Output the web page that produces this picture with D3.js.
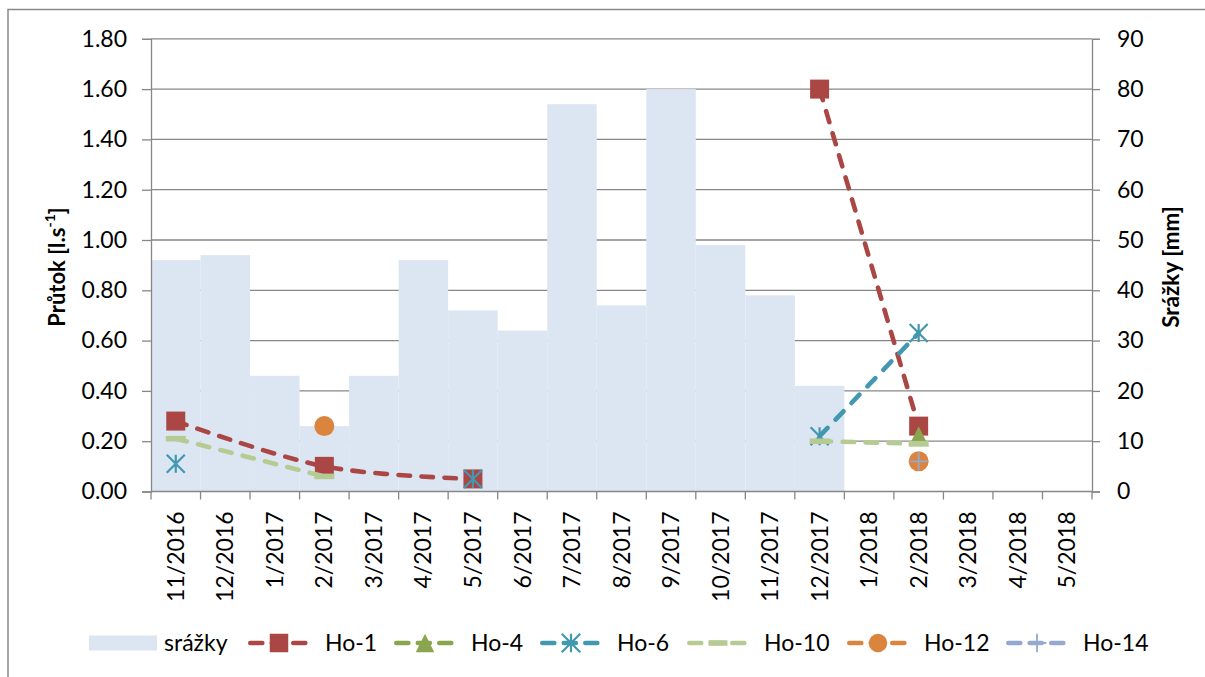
<!DOCTYPE html>
<html>
<head>
<meta charset="utf-8">
<script src="https://cdn.jsdelivr.net/npm/d3@7"></script>
<style>
  html, body { margin: 0; padding: 0; background: #fff; overflow: hidden; }
  svg { display: block; font-family: Lato, "Open Sans", sans-serif; }
</style>
</head>
<body>
<svg id="chart" width="1205" height="677"></svg>
<script>
// Months on the category axis
const categories = ["11/2016","12/2016","1/2017","2/2017","3/2017","4/2017","5/2017","6/2017",
  "7/2017","8/2017","9/2017","10/2017","11/2017","12/2017","1/2018","2/2018","3/2018","4/2018","5/2018"];

// Monthly precipitation [mm] (right axis)
const srazky = [46, 47, 23, 13, 23, 46, 36, 32, 77, 37, 80, 49, 39, 21, null, null, null, null, null];

// Discharge [l/s] per spring; each inner list is one connected run of measurements
const ho1  = [[["11/2016", 0.28], ["2/2017", 0.10], ["5/2017", 0.05]], [["12/2017", 1.60], ["2/2018", 0.26]]];
const ho4  = [[["2/2018", 0.22]]];
const ho6  = [[["11/2016", 0.11]], [["5/2017", 0.05]], [["12/2017", 0.22], ["2/2018", 0.63]]];
const ho10 = [[["11/2016", 0.21], ["2/2017", 0.06]], [["12/2017", 0.20], ["2/2018", 0.19]]];
const ho12 = [[["2/2017", 0.26]], [["2/2018", 0.12]]];
const ho14 = [[["2/2018", 0.12]]];

// Axis ticks
const leftTicks  = [0, 0.2, 0.4, 0.6, 0.8, 1.0, 1.2, 1.4, 1.6, 1.8];
const rightTicks = [0, 10, 20, 30, 40, 50, 60, 70, 80, 90];

const series = [
  { name: "Ho-1",  data: ho1,  color: "#AA4643", marker: "square",   size: 19 },
  { name: "Ho-4",  data: ho4,  color: "#89A54E", marker: "triangle", size: 20 },
  { name: "Ho-6",  data: ho6,  color: "#4198AF", marker: "star",     size: 18 },
  { name: "Ho-10", data: ho10, color: "#B6CB93", marker: "dash",     size: 20 },
  { name: "Ho-12", data: ho12, color: "#DB843D", marker: "circle",   size: 20 },
  { name: "Ho-14", data: ho14, color: "#93A9CF", marker: "plus",     size: 18 }
];

const barColor = "#DCE6F2";
const gridColor = "#878787";

const svg = d3.select("#chart");

// Plot geometry
const plot = { left: 151, right: 1092, top: 38.8, bottom: 491.5 };

const x = d3.scaleBand().domain(categories).range([plot.left, plot.right]).padding(0);
const yL = d3.scaleLinear().domain([0, 1.8]).range([plot.bottom, plot.top]);
const yR = d3.scaleLinear().domain([0, 90]).range([plot.bottom, plot.top]);
const cx = c => x(c) + x.bandwidth() / 2;

// Outer chart frame
svg.append("rect")
  .attr("x", 8).attr("y", 9.5).attr("width", 1400).attr("height", 900)
  .attr("fill", "none").attr("stroke", "#888").attr("stroke-width", 1.5);

// Horizontal gridlines (behind bars)
svg.append("g").selectAll("line").data(leftTicks.filter(d => d > 0)).join("line")
  .attr("x1", plot.left).attr("x2", plot.right)
  .attr("y1", d => yL(d)).attr("y2", d => yL(d))
  .attr("stroke", gridColor).attr("stroke-width", 1.3);

// Precipitation columns
svg.append("g").selectAll("rect")
  .data(categories.map((c, i) => ({ c, v: srazky[i] })).filter(d => d.v != null))
  .join("rect")
  .attr("x", d => x(d.c)).attr("width", x.bandwidth())
  .attr("y", d => yR(d.v)).attr("height", d => yR(0) - yR(d.v))
  .attr("fill", barColor);

// Left axis
const axL = svg.append("g").attr("transform", `translate(${plot.left},0)`)
  .call(d3.axisLeft(yL).tickValues(leftTicks).tickFormat(d3.format(".2f")).tickSize(9).tickPadding(15));
// Right axis
const axR = svg.append("g").attr("transform", `translate(${plot.right},0)`)
  .call(d3.axisRight(yR).tickValues(rightTicks).tickFormat(d3.format("d")).tickSize(8).tickPadding(17));
[axL, axR].forEach(a => {
  a.select(".domain").attr("stroke", gridColor).attr("stroke-width", 1.3);
  a.selectAll(".tick line").attr("stroke", gridColor).attr("stroke-width", 1.3);
  a.selectAll(".tick text").attr("font-size", 23).attr("fill", "#000").attr("font-family", "Lato");
});

// Category axis: baseline, boundary ticks, rotated labels
const axB = svg.append("g");
axB.append("line").attr("x1", plot.left).attr("x2", plot.right)
  .attr("y1", plot.bottom).attr("y2", plot.bottom)
  .attr("stroke", gridColor).attr("stroke-width", 1.3);
axB.selectAll("line.b").data(categories.map(c => x(c)).concat([plot.right])).join("line")
  .attr("class", "b")
  .attr("x1", d => d).attr("x2", d => d)
  .attr("y1", plot.bottom).attr("y2", plot.bottom + 8)
  .attr("stroke", gridColor).attr("stroke-width", 1.3);
axB.selectAll("text").data(categories).join("text")
  .attr("transform", d => `translate(${cx(d)},${plot.bottom + 20}) rotate(-90)`)
  .attr("text-anchor", "end").attr("dy", "0.35em")
  .attr("font-size", 23).text(d => d);

// Axis titles
const tL = svg.append("text")
  .attr("transform", `translate(57,267) rotate(-90)`)
  .attr("text-anchor", "middle").attr("dy", "0.35em")
  .attr("font-size", 22).attr("font-weight", "bold");
tL.append("tspan").text("Průtok [l.s");
tL.append("tspan").attr("font-size", 14).attr("dy", "-0.7em").text("-1");
tL.append("tspan").attr("dy", "0.45em").text("]");

svg.append("text")
  .attr("transform", `translate(1171,267) rotate(-90)`)
  .attr("text-anchor", "middle").attr("dy", "0.35em")
  .attr("font-size", 22.5).attr("font-weight", "bold")
  .text("Srážky [mm]");

// Marker shapes
function markerPath(type, s) {
  const h = s / 2;
  switch (type) {
    case "square":   return `M${-h},${-h}h${s}v${s}h${-s}Z`;
    case "triangle": return `M0,${-h}L${h},${h}L${-h},${h}Z`;
    case "circle":   return d3.symbol(d3.symbolCircle, Math.PI * h * h)();
    case "star":     return `M${-h},${-h}L${h},${h}M${h},${-h}L${-h},${h}M0,${-h}V${h}`;
    case "plus":     return `M${-h},0H${h}M0,${-h}V${h}`;
    case "dash":     return `M${-h},-2.8h${s}v5.6h${-s}Z`;
  }
}
const stroked = t => t === "star" || t === "plus";

function drawMarker(g, type, s, color, px, py) {
  const p = g.append("path").attr("d", markerPath(type, s))
    .attr("transform", `translate(${px},${py})`);
  if (stroked(type)) p.attr("fill", "none").attr("stroke", color).attr("stroke-width", type === "star" ? 2.2 : 1.8);
  else p.attr("fill", color);
}

const line = d3.line().x(d => cx(d[0])).y(d => yL(d[1])).curve(d3.curveCatmullRom.alpha(0));
const dash = "11.5,11.5";

// Discharge series: dashed smoothed lines with markers
series.forEach(s => {
  const g = svg.append("g");
  s.data.filter(run => run.length > 1).forEach(run => {
    g.append("path").attr("d", line(run))
      .attr("fill", "none").attr("stroke", s.color).attr("stroke-width", 4.6)
      .attr("stroke-linecap", "round").attr("stroke-dasharray", dash);
  });
  s.data.flat().forEach(d => drawMarker(g, s.marker, s.size, s.color, cx(d[0]), yL(d[1])));
});

// Legend
const legendY = 643;
const lg = svg.append("g").attr("font-size", 23);
lg.append("rect").attr("x", 89).attr("y", legendY - 7.5).attr("width", 68).attr("height", 15).attr("fill", barColor);
lg.append("text").attr("x", 164).attr("y", legendY).attr("dy", "0.35em").text("srážky");
const legendX = [248, 394, 540, 687, 847, 1006];
series.forEach((s, i) => {
  const x0 = legendX[i];
  lg.append("line").attr("x1", x0 + 2.3).attr("x2", x0 + 60).attr("y1", legendY).attr("y2", legendY)
    .attr("stroke", s.color).attr("stroke-width", 4.6).attr("stroke-linecap", "round")
    .attr("stroke-dasharray", "12,9.5");
  drawMarker(lg, s.marker, s.marker === "dash" ? 19 : 18.5, s.color, x0 + 31, legendY);
  lg.append("text").attr("x", x0 + 77).attr("y", legendY).attr("dy", "0.35em").text(s.name);
});
</script>
</body>
</html>
